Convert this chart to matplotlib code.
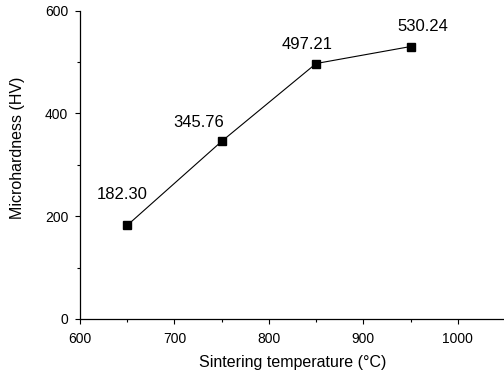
import matplotlib
matplotlib.use("Agg")
import matplotlib.pyplot as plt
from matplotlib.ticker import MultipleLocator

plt.rcParams['font.family'] = ['Liberation Sans', 'DejaVu Sans']

temps = [650, 750, 850, 950]
hardness = [182.30, 345.76, 497.21, 530.24]
labels = ["182.30", "345.76", "497.21", "530.24"]
# label offsets in pixels (dx, dy) relative to the point
offsets_px = [(-5, 31), (-23, 19), (-9, 19), (12, 20)]

fig = plt.figure(figsize=(5.04, 3.76), dpi=100)
ax = fig.add_axes([80/504, 1-319/376, 425/504, (319-10.7)/376])

ax.plot(temps, hardness, color='black', lw=0.8, marker='s', ms=5.5,
        mfc='black', mec='black')
for x, y, t, (dx, dy) in zip(temps, hardness, labels, offsets_px):
    ax.annotate(t, (x, y), xytext=(dx*0.72, dy*0.72), textcoords='offset points',
                ha='center', va='center', fontsize=12)

ax.set_xlim(600, 1050)
ax.set_ylim(0, 600)
ax.xaxis.set_major_locator(MultipleLocator(100))
ax.xaxis.set_minor_locator(MultipleLocator(50))
ax.yaxis.set_major_locator(MultipleLocator(200))
ax.yaxis.set_minor_locator(MultipleLocator(100))
for s in ['top', 'right']:
    ax.spines[s].set_visible(False)
for s in ['left', 'bottom']:
    ax.spines[s].set_linewidth(0.9)
ax.tick_params(which='major', direction='out', length=3.5, width=0.8, labelsize=10)
ax.tick_params(axis='x', which='major', pad=6)
ax.tick_params(axis='y', which='major', pad=5)
ax.tick_params(which='minor', direction='out', length=2, width=0.8)
ax.set_xlabel('Sintering temperature (\u00b0C)', fontsize=11.5)
ax.set_ylabel('Microhardness (HV)', fontsize=11.5)
ax.xaxis.set_label_coords(0.5, -(363-319)/308.3, transform=ax.transAxes)
ax.xaxis.label.set_va('center')
ax.yaxis.set_label_coords((17-80)/425, (319-148)/308.3, transform=ax.transAxes)
ax.yaxis.label.set_va('center')
fig.savefig('out.png', dpi=100)
